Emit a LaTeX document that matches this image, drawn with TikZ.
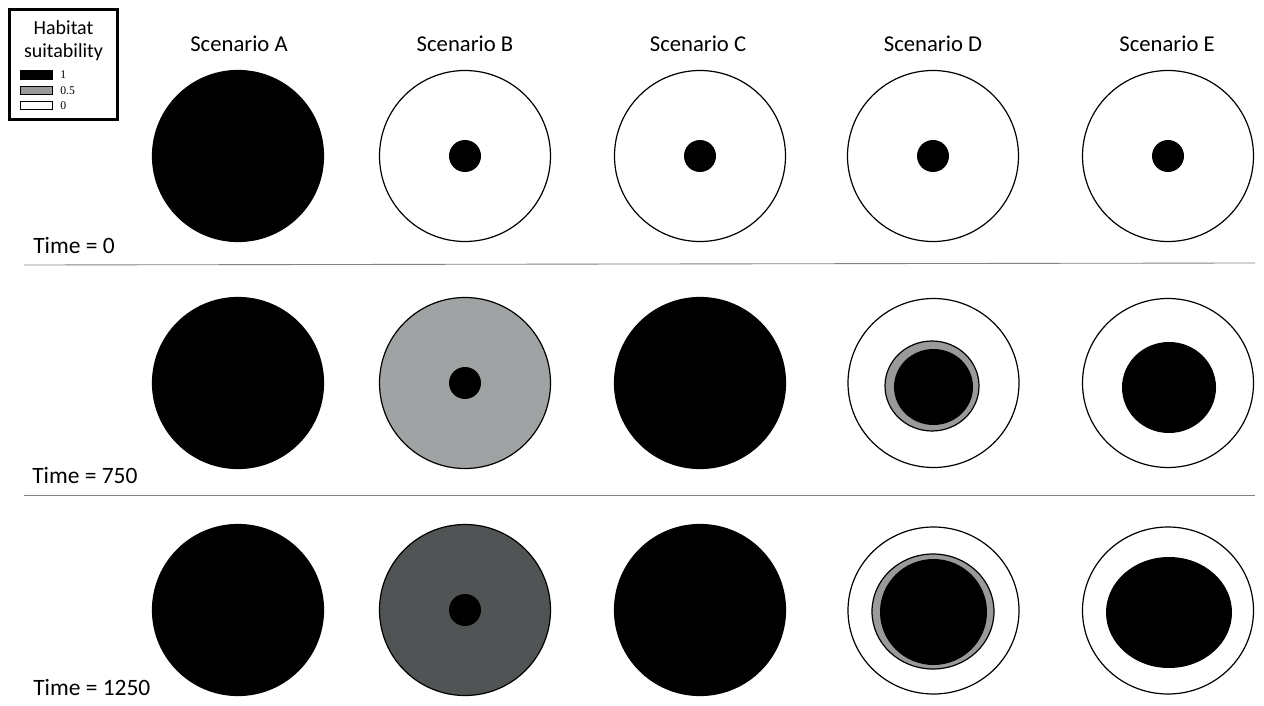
\documentclass[tikz,border=0pt]{standalone}
\usepackage{fontspec}
\setmainfont{Carlito}
\newfontfamily\legnum{Liberation Serif}
\usetikzlibrary{shapes.geometric}
\definecolor{lightfill}{RGB}{160,163,164}
\definecolor{darkfill}{RGB}{80,84,85}
\definecolor{ringfill}{RGB}{152,154,155}
\definecolor{sepcol}{RGB}{130,130,130}
\tikzset{
  disc/.style={circle, inner sep=0pt, minimum size=#1*0.75pt, draw=black, line width=0.9pt},
  oval/.style 2 args={ellipse, inner sep=0pt, minimum width=#1*0.75pt, minimum height=#2*0.75pt, draw=black, line width=0.9pt},
  title/.style={font=\fontsize{17}{20}\selectfont, anchor=base, inner sep=0pt},
  timelabel/.style={font=\fontsize{17.6}{20}\selectfont, anchor=base west, inner sep=0pt},
  sep/.style={draw=sepcol, line width=0.65pt},
  swatch/.style={draw=black, line width=0.8pt, minimum width=32*0.75pt, minimum height=8*0.75pt, inner sep=0pt},
  numlab/.style={font=\legnum\fontsize{8.8}{10}\selectfont, anchor=west, inner sep=0pt}
}
\begin{document}
\begin{tikzpicture}[x=0.75pt, y=-0.75pt]
\useasboundingbox[fill=white] (0,0) rectangle (1264,706);
% legend
\node[draw=black, line width=2pt, minimum width=108*0.75pt, minimum height=110*0.75pt, inner sep=0pt] (legend) at (63.5,64.5) {};
\node[font=\fontsize{15}{18}\selectfont, anchor=base, inner sep=0pt] (lh1) at (63.5,35) {Habitat};
\node[font=\fontsize{15}{18}\selectfont, anchor=base, inner sep=0pt] (lh2) at (63.5,58) {suitability};
\node[swatch, fill=black] (sw1) at (36.5,75) {};
\node[swatch, fill=ringfill] (sw2) at (36.5,90.5) {};
\node[swatch, fill=white] (sw3) at (36.5,105.5) {};
\node[numlab] (n1) at (60,75) {1};
\node[numlab] (n2) at (60,90.5) {0.5};
\node[numlab] (n3) at (60,106) {0};
% titles
\node[title] (tA) at (239,52) {Scenario A};
\node[title] (tB) at (465,52) {Scenario B};
\node[title] (tC) at (698,52) {Scenario C};
\node[title] (tD) at (933,52) {Scenario D};
\node[title] (tE) at (1167,52) {Scenario E};
% time labels
\node[timelabel] (time0) at (33,253) {Time = 0};
\node[timelabel] (time1) at (32,483) {Time = 750};
\node[timelabel] (time2) at (33,695) {Time = 1250};
% separators
\coordinate (s1a) at (24,265); \coordinate (s1b) at (1255,263);
\coordinate (s2a) at (24,495); \coordinate (s2b) at (1255,495);
\draw[sep] (s1a) -- (s1b);
\draw[sep] (s2a) -- (s2b);
% row 1
\node[disc=171, fill=black] (A1) at (238,156) {};
\node[disc=171, fill=white] (B1) at (465,156) {};
\node[disc=32, fill=black, draw=none] (B1c) at (465,156) {};
\node[disc=171, fill=white] (C1) at (700,156) {};
\node[disc=32, fill=black, draw=none] (C1c) at (700,156) {};
\node[disc=171, fill=white] (D1) at (933,156) {};
\node[disc=32, fill=black, draw=none] (D1c) at (933,156) {};
\node[disc=171, fill=white] (E1) at (1168,156) {};
\node[disc=32, fill=black, draw=none] (E1c) at (1168,156) {};
% row 2
\node[disc=171, fill=black] (A2) at (238,383) {};
\node[disc=171, fill=lightfill] (B2) at (465,383) {};
\node[disc=32, fill=black, draw=none] (B2c) at (465,383) {};
\node[disc=171, fill=black] (C2) at (700,383) {};
\node[oval={171}{169}, fill=white] (D2) at (933.5,383) {};
\node[oval={94}{90}, fill=ringfill] (D2r) at (932,386) {};
\node[oval={79}{76}, fill=black, draw=none] (D2c) at (933.5,387) {};
\node[oval={171}{169}, fill=white] (E2) at (1168,383) {};
\node[oval={94}{91}, fill=black, draw=none] (E2c) at (1169,387.5) {};
% row 3
\node[disc=171, fill=black] (A3) at (238,610) {};
\node[disc=171, fill=darkfill] (B3) at (465,610) {};
\node[disc=32, fill=black, draw=none] (B3c) at (465,610) {};
\node[disc=171, fill=black] (C3) at (700,610) {};
\node[oval={171}{167}, fill=white] (D3) at (933.5,610.5) {};
\node[oval={122}{115}, fill=ringfill] (D3r) at (933,611.5) {};
\node[oval={107}{106}, fill=black, draw=none] (D3c) at (933.5,612) {};
\node[oval={171}{167}, fill=white] (E3) at (1168,610.5) {};
\node[oval={126}{111}, fill=black, draw=none] (E3c) at (1169,612.5) {};
\end{tikzpicture}
\end{document}
